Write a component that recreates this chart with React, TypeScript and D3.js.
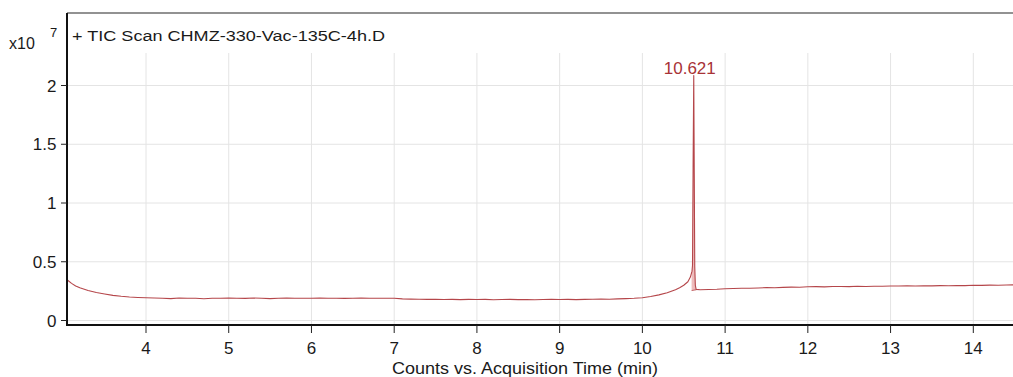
import React from "react";
import * as d3 from "d3";

// Total ion chromatogram, counts in units of 1e7
const times: number[] = [
  3.05, 3.1, 3.15, 3.2, 3.3, 3.4, 3.5, 3.6, 3.7, 3.8, 3.9,
  4.0, 4.1, 4.2, 4.3, 4.4, 4.5, 4.6, 4.7, 4.8, 4.9,
  5.0, 5.1, 5.2, 5.3, 5.4, 5.5, 5.6, 5.7, 5.8, 5.9,
  6.0, 6.1, 6.2, 6.3, 6.4, 6.5, 6.6, 6.7, 6.8, 6.9,
  7.0, 7.1, 7.2, 7.3, 7.4, 7.5, 7.6, 7.7, 7.8, 7.9,
  8.0, 8.1, 8.2, 8.3, 8.4, 8.5, 8.6, 8.7, 8.8, 8.9,
  9.0, 9.1, 9.2, 9.3, 9.4, 9.5, 9.6, 9.7, 9.8, 9.9,
  10.0, 10.1, 10.2, 10.3, 10.4, 10.45, 10.5, 10.55, 10.58, 10.6,
  10.606, 10.613, 10.621, 10.627, 10.633, 10.64, 10.65, 10.7, 10.8, 10.9,
  11.0, 11.1, 11.2, 11.3, 11.4, 11.5, 11.6, 11.7, 11.8, 11.9,
  12.0, 12.1, 12.2, 12.3, 12.4, 12.5, 12.6, 12.7, 12.8, 12.9,
  13.0, 13.1, 13.2, 13.3, 13.4, 13.5, 13.6, 13.7, 13.8, 13.9,
  14.0, 14.1, 14.2, 14.3, 14.4, 14.48,
];

const counts: number[] = [
  0.345, 0.316, 0.294, 0.278, 0.256, 0.238, 0.226, 0.214, 0.206, 0.2, 0.196,
  0.193, 0.191, 0.19, 0.186, 0.191, 0.189, 0.19, 0.185, 0.19, 0.189,
  0.191, 0.19, 0.188, 0.191, 0.19, 0.186, 0.19, 0.191, 0.189, 0.19,
  0.19, 0.191, 0.189, 0.19, 0.188, 0.19, 0.191, 0.19, 0.189, 0.19,
  0.189, 0.184, 0.182, 0.181, 0.18, 0.181, 0.179, 0.18, 0.178, 0.18,
  0.179, 0.18, 0.177, 0.179, 0.18, 0.178, 0.179, 0.176, 0.179, 0.18,
  0.179, 0.18, 0.178, 0.18, 0.181, 0.182, 0.181, 0.184, 0.186, 0.189,
  0.194, 0.204, 0.218, 0.236, 0.262, 0.279, 0.3, 0.33, 0.37, 0.42,
  0.47, 1.3, 2.085, 1.25, 0.46, 0.3, 0.265, 0.262, 0.264, 0.266,
  0.27, 0.272, 0.275, 0.274, 0.277, 0.28, 0.279, 0.282, 0.284, 0.283,
  0.287, 0.288, 0.286, 0.289, 0.29, 0.288, 0.291, 0.29, 0.292, 0.291,
  0.294, 0.293, 0.295, 0.294, 0.296, 0.295, 0.297, 0.296, 0.298, 0.297,
  0.3, 0.299, 0.301, 0.3, 0.302, 0.303,
];

// Integrated peak window and its drawn baseline
const peakRT = 10.621;
const peakStart: [number, number] = [10.595, 0.255];
const peakEnd: [number, number] = [10.655, 0.262];

const xTicks = [4, 5, 6, 7, 8, 9, 10, 11, 12, 13, 14];
const yTicks = [0, 0.5, 1, 1.5, 2];
const yTickLabels = ["0", "0.5", "1", "1.5", "2"];

const title = "+ TIC Scan CHMZ-330-Vac-135C-4h.D";
const xAxisTitle = "Counts vs. Acquisition Time (min)";

const W = 1013;
const H = 377;
const left = 67;
const right = 1013;
const top = 13;
const bottom = 325;
const gridTop = 53;

const FONT = "Arial, 'Liberation Sans', sans-serif";
const TRACE = "#b5464a";
const INK = "#1a1a1a";

export default function App() {
  const x = d3.scaleLinear().domain([4, 14]).range([146, 973.3]);
  const y = d3.scaleLinear().domain([0, 2]).range([320.5, 85.5]);

  const pts: [number, number][] = times.map((t, i) => [t, counts[i]]);

  const line = d3
    .line<[number, number]>()
    .x((d) => x(d[0]))
    .y((d) => y(d[1]));

  // shaded area between trace and baseline across the integrated peak
  const baseAt = (t: number) =>
    peakStart[1] + ((t - peakStart[0]) / (peakEnd[0] - peakStart[0])) * (peakEnd[1] - peakStart[1]);
  const inPeak: [number, number][] = [
    [peakStart[0], d3.interpolateNumber(counts[79], counts[80])((peakStart[0] - 10.58) / 0.02)],
    ...pts.filter((p) => p[0] > peakStart[0] && p[0] < peakEnd[0]),
    [peakEnd[0], 0.263],
  ];
  const area = d3
    .area<[number, number]>()
    .x((d) => x(d[0]))
    .y0((d) => y(baseAt(d[0])))
    .y1((d) => y(d[1]));

  const peakIdx = times.indexOf(peakRT);

  return (
    <svg
      width={W}
      height={H}
      style={{ position: "absolute", left: 0, top: 0, background: "#fff" }}
      fontFamily={FONT}
    >
      <defs>
        <clipPath id="plot">
          <rect x={left} y={top} width={right - left} height={bottom - top} />
        </clipPath>
      </defs>

      {/* grid */}
      {xTicks.map((t) => (
        <line key={"gx" + t} x1={x(t)} x2={x(t)} y1={gridTop} y2={bottom} stroke="#e4e4e4" strokeWidth={1} />
      ))}
      {yTicks.map((v) => (
        <line key={"gy" + v} x1={left} x2={right} y1={y(v)} y2={y(v)} stroke="#e4e4e4" strokeWidth={1} />
      ))}

      {/* trace */}
      <g clipPath="url(#plot)">
        <path d={area(inPeak) || ""} fill="#eebcbc" stroke="none" />
        <line
          x1={x(peakStart[0])}
          x2={x(peakEnd[0])}
          y1={y(peakStart[1])}
          y2={y(peakEnd[1])}
          stroke={TRACE}
          strokeWidth={0.8}
        />
        <path d={line(pts) || ""} fill="none" stroke={TRACE} strokeWidth={1.1} strokeLinejoin="round" />
      </g>

      {/* peak label */}
      <text
        x={x(peakRT) - 4}
        y={y(counts[peakIdx]) - 2}
        textAnchor="middle"
        fontSize={17}
        fill="#a83236"
      >
        {peakRT.toFixed(3)}
      </text>

      {/* frame */}
      <line x1={left} x2={right} y1={top} y2={top} stroke="#6e6e6e" strokeWidth={1.5} />
      <line x1={left} x2={left} y1={top} y2={bottom + 1} stroke="#111" strokeWidth={2} />
      <line x1={left} x2={right} y1={bottom} y2={bottom} stroke="#111" strokeWidth={2.2} />

      {/* y axis */}
      {yTicks.map((v, i) => (
        <g key={"ty" + v}>
          <line x1={61} x2={left} y1={y(v)} y2={y(v)} stroke="#222" strokeWidth={1} />
          <text x={56.5} y={y(v) + 6} textAnchor="end" fontSize={17} fill={INK}>
            {yTickLabels[i]}
          </text>
        </g>
      ))}
      <text x={9} y={49} fontSize={16} fill={INK}>
        x10
      </text>
      <text x={50} y={37} fontSize={13} fill={INK}>
        7
      </text>

      {/* x axis */}
      {xTicks.map((t) => (
        <g key={"tx" + t}>
          <line x1={x(t)} x2={x(t)} y1={bottom} y2={333} stroke="#222" strokeWidth={1} />
          <text x={x(t)} y={353.5} textAnchor="middle" fontSize={17} fill={INK}>
            {t}
          </text>
        </g>
      ))}
      <text
        x={392}
        y={373.5}
        fontSize={16.5}
        fill={INK}
        textLength={266}
        lengthAdjust="spacingAndGlyphs"
      >
        {xAxisTitle}
      </text>

      {/* title */}
      <text
        x={72}
        y={40.5}
        fontSize={15.5}
        fill={INK}
        textLength={313}
        lengthAdjust="spacingAndGlyphs"
      >
        {title}
      </text>
    </svg>
  );
}
